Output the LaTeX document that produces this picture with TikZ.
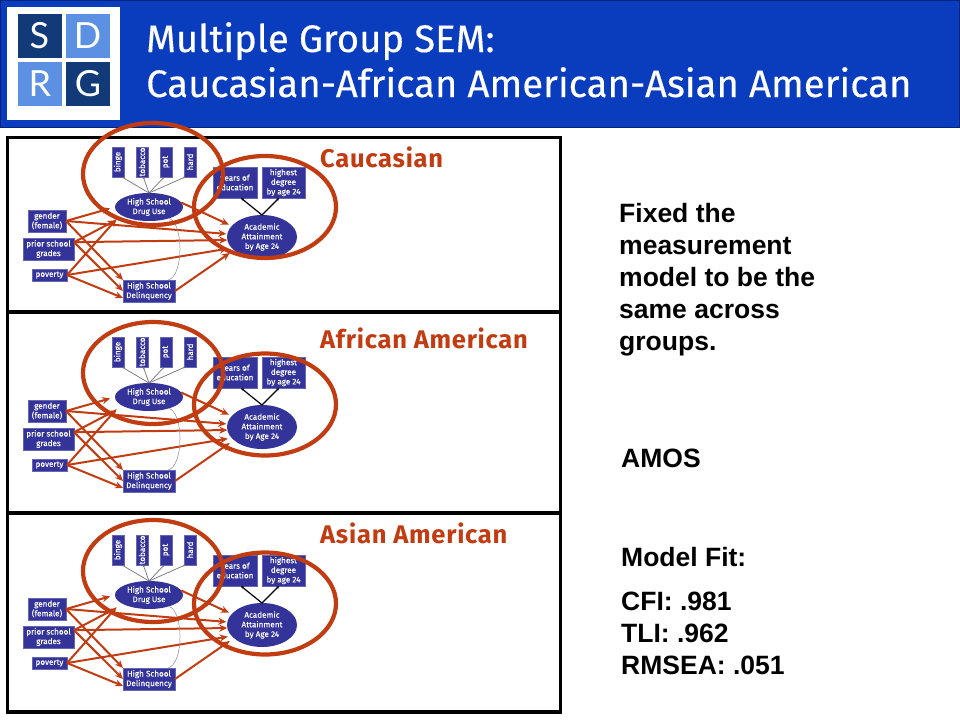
\documentclass[tikz,border=0pt]{standalone}
\usepackage{fontspec}
\setmainfont{Fira Sans}
\newfontfamily\bodyfont{Liberation Sans}
\newfontfamily\logofont{Lato}
\newfontfamily\smallfont[FakeBold=0.25]{Fira Sans}
\newfontfamily\titlefont[FakeBold=0.3]{Fira Sans}
\newfontfamily\labelfont[LetterSpace=3]{Fira Sans}
\usetikzlibrary{arrows.meta,shapes.geometric,calc}
\definecolor{barblue}{HTML}{0A3CBE}
\definecolor{barline}{HTML}{06237A}
\definecolor{logodark}{HTML}{123A78}
\definecolor{logolight}{HTML}{5B90E2}
\definecolor{navy}{HTML}{333399}
\definecolor{rust}{HTML}{C23C12}
\tikzset{
  x=1pt,y=-1pt,
  smalltext/.style={font=\fontsize{8.1}{9.6}\smallfont,text=white,align=center,inner sep=0pt},
  boxnode/.style={smalltext,fill=navy,draw=navy!75!white,line width=.4pt,rectangle,outer sep=0pt},
  ovalnode/.style={smalltext,fill=navy,ellipse,inner sep=0pt,outer sep=0pt},
  redarrow/.style={draw=rust,line width=2pt,-{Stealth[length=8pt,width=7pt]}},
  greyarrow/.style={draw=black!55,line width=.7pt,-{Stealth[length=2pt,width=2pt]}},
  blackarrow/.style={draw=black,line width=1.2pt,-{Stealth[length=3pt,width=3pt]}},
  halo/.style={draw=rust,line width=4.2pt,ellipse,inner sep=0pt,outer sep=0pt,fill=none},
  frame/.style={draw=black,line width=3.2pt,fill=white,rectangle,outer sep=0pt},
  grouplabel/.style={anchor=west,text=rust,inner sep=0pt,font=\fontsize{25.5}{30}\labelfont\bfseries},
  sidetext/.style={anchor=north west,align=left,inner sep=0pt,font=\fontsize{26.5}{32}\bodyfont\bfseries},
  logotile/.style={rectangle,text=white,inner sep=0pt,font=\fontsize{36}{36}\logofont},
  titletext/.style={anchor=base west,text=white,inner sep=0pt,font=\fontsize{38.3}{44}\titlefont},
}
\newcommand{\semmodel}[2]{%
\begin{scope}[shift={(0,#2)},name prefix=#1-]
  \foreach \nm/\cx/\tx in {bi/118/binge,to/142/tobacco,po/166/pot,ha/190/hard}{
    \node[boxnode,minimum width=12pt,minimum height=30pt] (\nm) at (\cx,162) {\rotatebox{90}{\tx}};
  }
  \node[boxnode,minimum width=44pt,minimum height=31pt] (ye) at (235,182.5) {years of\\education};
  \node[boxnode,minimum width=43pt,minimum height=31pt] (hi) at (283.5,182.5) {highest\\degree\\by age 24};
  \node[ovalnode,minimum width=68pt,minimum height=28pt] (dr) at (149,207) {High School\\Drug Use};
  \node[ovalnode,minimum width=70pt,minimum height=44pt] (ac) at (262,237) {Academic\\Attainment\\by Age 24};
  \node[boxnode,minimum width=38pt,minimum height=22pt] (ge) at (47,221) {gender\\(female)};
  \node[boxnode,minimum width=51pt,minimum height=22pt] (pr) at (48.5,249) {prior school\\grades};
  \node[boxnode,minimum width=35pt,minimum height=12pt] (pv) at (49.5,275) {poverty};
  \node[boxnode,minimum width=52pt,minimum height=22pt] (de) at (149,291) {High School\\Delinquency};
  \draw[greyarrow] (dr.north) -- (bi.-75);
  \draw[greyarrow] (dr.north) -- (to.-85);
  \draw[greyarrow] (dr.north) -- (po.-97);
  \draw[greyarrow] (dr.north) -- (ha.-108);
  \draw[blackarrow] (ac.north) -- (ye.-69);
  \draw[blackarrow] (ac.north) -- (hi.-106);
  \draw[redarrow,shorten >=5pt] (ge.east) -- (dr.west);
  \draw[redarrow,shorten >=1pt] (ge.east) -- (ac.175);
  \draw[redarrow] (ge.east) -- (de.north west);
  \draw[redarrow,shorten >=9pt] (pr.15) -- (dr.200);
  \draw[redarrow] (pr.15) -- (ac.185);
  \draw[redarrow] (pr.15) -- (de.west);
  \draw[redarrow,shorten >=6pt] (pv.east) -- (dr.195);
  \draw[redarrow,shorten >=4pt] (pv.east) -- (ac.200);
  \draw[redarrow] (pv.east) -- (de.195);
  \draw[redarrow,shorten >=3pt] (dr.8) -- (ac.160);
  \draw[redarrow,shorten >=5pt] (de.east) -- (ac.205);
  \draw[draw=black!45,line width=.5pt] (dr.-30) .. controls ($(dr.-30)+(15,4)$) and ($(de.30)+(16,-4)$) .. (de.30);
\end{scope}}
\begin{document}
\begin{tikzpicture}
\useasboundingbox (0,0) rectangle (960,720);
\fill[white] (0,0) rectangle (960,720);
% header
\node[rectangle,fill=barblue,draw=barline,line width=1pt,outer sep=0pt,minimum width=959pt,minimum height=126.5pt,anchor=north west,inner sep=0pt] (bar) at (.5,.5) {};
\node[rectangle,fill=white,minimum width=113pt,minimum height=113pt,anchor=north west,inner sep=0pt,outer sep=0pt] (logo) at (7,7) {};
\node[logotile,fill=logodark,minimum width=44pt,minimum height=44pt] (ts) at (39.5,35.5) {S};
\node[logotile,fill=logolight,minimum width=44pt,minimum height=44pt] (td) at (87.5,35.5) {D};
\node[logotile,fill=logolight,minimum width=44pt,minimum height=44pt] (tr) at (40,84) {R};
\node[logotile,fill=logodark,minimum width=44pt,minimum height=44pt] (tg) at (88,83.5) {G};
\node[titletext] (t1) at (146,52) {Multiple Group SEM:};
\node[titletext] (t2) at (146,97) {Caucasian-African American-Asian American};
% panels
\node[frame,minimum width=553pt,minimum height=175pt,anchor=north west,inner sep=0pt] (p1) at (7.5,137.5) {};
\node[frame,minimum width=553pt,minimum height=201pt,anchor=north west,inner sep=0pt] (p2) at (7.5,312) {};
\node[frame,minimum width=553pt,minimum height=199pt,anchor=north west,inner sep=0pt] (p3) at (7.5,513) {};
\semmodel{a}{0}
\semmodel{b}{190}
\semmodel{c}{388}
% group labels
\node[grouplabel] (l1) at (320,157) {Caucasian};
\node[grouplabel] (l2) at (320,338) {African American};
\node[grouplabel] (l3) at (320,533) {Asian American};
% highlight rings
\foreach \nm/\ya/\yb in {a/174/207,b/373/404.5,c/571/603.5}{
  \node[halo,minimum width=140pt,minimum height=102pt] (\nm-r1) at (153,\ya) {};
  \node[halo,minimum width=142pt,minimum height=102pt] (\nm-r2) at (265,\yb) {};
}
% side text
\node[sidetext] (s1) at (619,203) {Fixed the\\measurement\\model to be the\\same across\\groups.};
\node[sidetext] (s2) at (621,449) {AMOS};
\node[sidetext] (s3) at (621,547) {Model Fit:};
\node[sidetext] (s4) at (621,592) {CFI: .981\\TLI: .962\\RMSEA: .051};
\end{tikzpicture}
\end{document}
